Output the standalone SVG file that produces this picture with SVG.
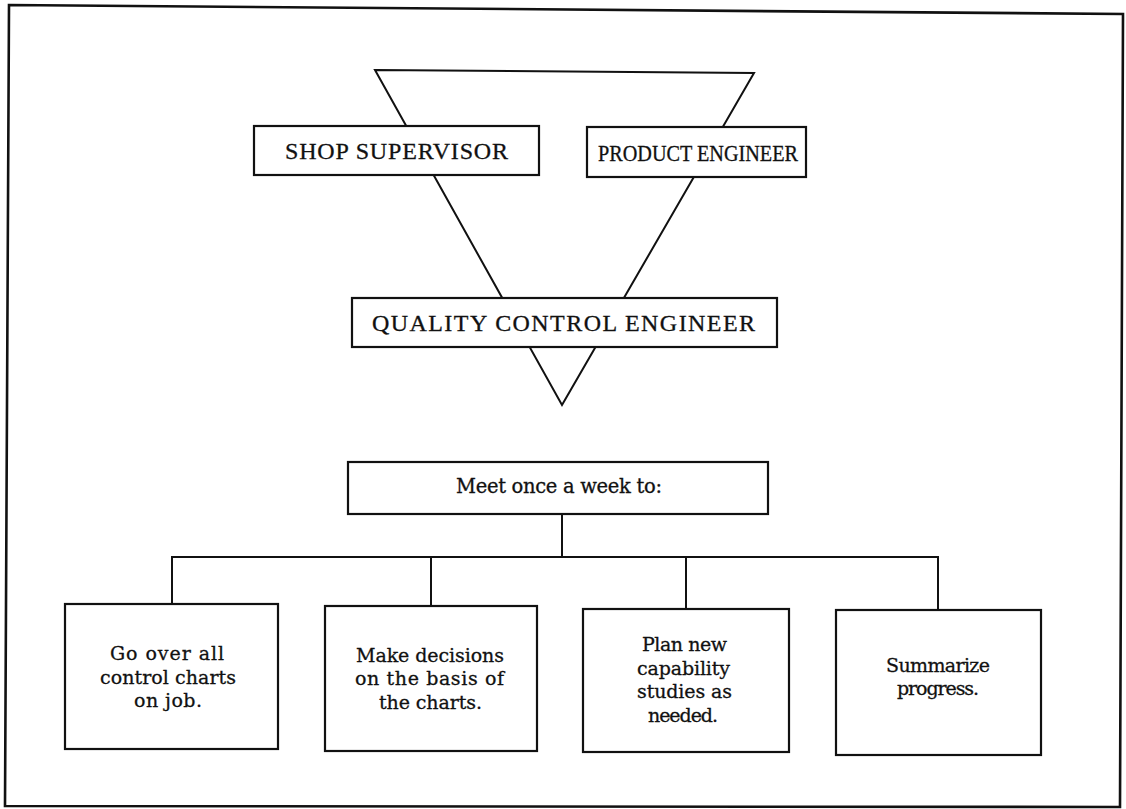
<svg xmlns="http://www.w3.org/2000/svg" width="1126" height="809" viewBox="0 0 1126 809">
<style>
.ln{fill:none;stroke:#111;stroke-width:2;stroke-linejoin:miter}
.bx{fill:#fff;stroke:#111;stroke-width:2.2}
.t{font-family:"DejaVu Serif","Liberation Serif",serif;fill:#111;stroke:#111;stroke-width:0.3}
.cap{font-family:"Liberation Serif","DejaVu Serif",serif;font-size:24px}
.sm{font-size:19px}
</style>
<rect x="0" y="0" width="1126" height="809" fill="#fff"/>
<polygon class="ln" points="9,5 1123,14 1120,807 5,806" style="stroke-width:2.6"/>
<g id="triangle">
<polygon class="ln" points="375,70 754,73 562,405"/>
</g>
<g id="connectors">
<path class="ln" d="M562,514 V558 M172,604 V557 H938 V610 M431,557 V606 M686,557 V609"/>
</g>
<g id="shop-supervisor">
<rect class="bx" x="254" y="126" width="285" height="49"/>
<text class="t cap" x="285" y="159" textLength="223" lengthAdjust="spacing">SHOP SUPERVISOR</text>
</g>
<g id="product-engineer">
<rect class="bx" x="587" y="127" width="219" height="50"/>
<text class="t cap" style="font-size:23px" x="598" y="161" textLength="200" lengthAdjust="spacingAndGlyphs">PRODUCT  ENGINEER</text>
</g>
<g id="qc-engineer">
<rect class="bx" x="352" y="298" width="425" height="49"/>
<text class="t cap" x="372" y="331" textLength="383" lengthAdjust="spacing">QUALITY CONTROL ENGINEER</text>
</g>
<g id="meet">
<rect class="bx" x="348" y="462" width="420" height="52"/>
<text class="t" style="font-size:19.5px" x="456" y="493" textLength="206" lengthAdjust="spacing">Meet once a week to:</text>
</g>
<g id="task1">
<rect class="bx" x="65" y="604" width="213" height="145"/>
<text class="t sm" x="110" y="660" textLength="114" lengthAdjust="spacing">Go over all</text>
<text class="t sm" x="100" y="684" textLength="136" lengthAdjust="spacing">control charts</text>
<text class="t sm" x="134" y="707" textLength="68" lengthAdjust="spacing">on job.</text>
</g>
<g id="task2">
<rect class="bx" x="325" y="606" width="212" height="145"/>
<text class="t sm" x="356" y="662" textLength="148" lengthAdjust="spacing">Make decisions</text>
<text class="t sm" x="355" y="685" textLength="149" lengthAdjust="spacing">on the basis of</text>
<text class="t sm" x="379" y="709" textLength="103" lengthAdjust="spacing">the charts.</text>
</g>
<g id="task3">
<rect class="bx" x="583" y="609" width="206" height="143"/>
<text class="t sm" x="642" y="651" textLength="85" lengthAdjust="spacing">Plan new</text>
<text class="t sm" x="637" y="675" textLength="93" lengthAdjust="spacing">capability</text>
<text class="t sm" x="637" y="698" textLength="95" lengthAdjust="spacing">studies as</text>
<text class="t sm" x="648" y="722" textLength="70" lengthAdjust="spacing">needed.</text>
</g>
<g id="task4">
<rect class="bx" x="836" y="610" width="205" height="145"/>
<text class="t sm" x="886" y="672" textLength="104" lengthAdjust="spacing">Summarize</text>
<text class="t sm" x="897" y="695" textLength="82" lengthAdjust="spacing">progress.</text>
</g>
</svg>
